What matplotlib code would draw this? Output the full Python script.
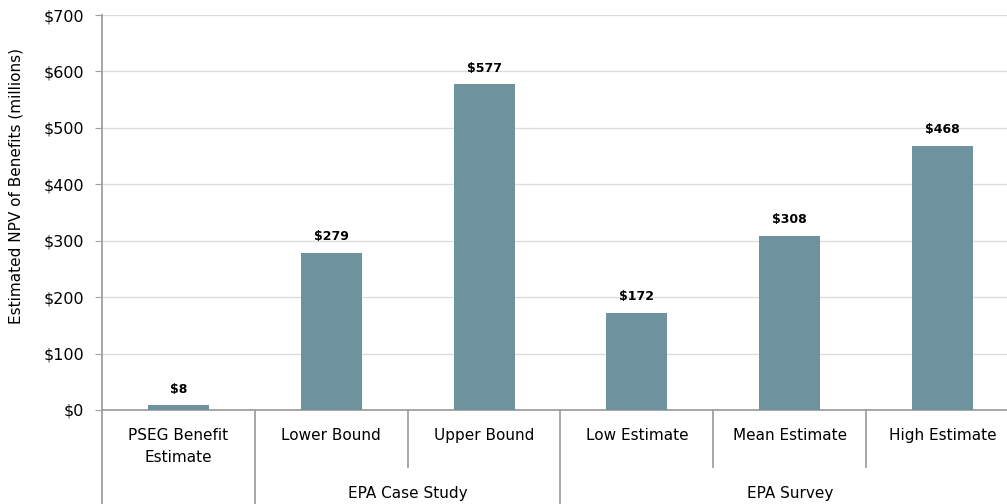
import matplotlib
matplotlib.use("Agg")
import matplotlib.pyplot as plt

categories = ["PSEG Benefit\nEstimate", "Lower Bound", "Upper Bound",
              "Low Estimate", "Mean Estimate", "High Estimate"]
values = [8, 279, 577, 172, 308, 468]
groups = [("", 0, 1), ("EPA Case Study", 1, 3), ("EPA Survey", 3, 6)]
yticks = [0, 100, 200, 300, 400, 500, 600, 700]

plt.rcParams['font.family'] = ['DejaVu Sans']

W, H = 1007, 504
fig = plt.figure(figsize=(W / 100, H / 100), dpi=100)
left_px, right_px, top_px, bottom_px = 102, 1019, 15, 410
ax_w_px = right_px - left_px
ax_h_px = bottom_px - top_px
ax = fig.add_axes([left_px / W, 1 - bottom_px / H,
                   ax_w_px / W, ax_h_px / H])

n = len(categories)
x = list(range(n))
color = "#6F929F"
ax.bar(x, values, width=0.4, color=color, zorder=3)
ax.set_xlim(-0.5, n - 0.5)
ax.set_ylim(0, 700)
ax.set_yticks(yticks)
ax.set_yticklabels([f"${v}" for v in yticks], fontsize=11.5)
ax.grid(axis="y", color="#DCDCDC", linewidth=1, zorder=0)
ax.set_xticks([])
for s in ["top", "right"]:
    ax.spines[s].set_visible(False)
for s in ["left", "bottom"]:
    ax.spines[s].set_color("#A0A0A0")
    ax.spines[s].set_linewidth(1.3)
ax.tick_params(axis="y", length=5, color="#A0A0A0", pad=8)
ax.set_ylabel("Estimated NPV of Benefits (millions)", fontsize=11)
ax.yaxis.set_label_coords((23 - left_px) / ax_w_px, (bottom_px - 186) / ax_h_px)

for xi, v in zip(x, values):
    ax.annotate(f"${v}", (xi, v), xytext=(0, 7), textcoords="offset points",
                ha="center", va="bottom", fontsize=9, fontweight="bold")

trans = ax.get_xaxis_transform()
def yfrac(py):
    return -(py - bottom_px) / ax_h_px

# category labels
for xi, c in zip(x, categories):
    ax.text(xi, yfrac(428), c, transform=trans, ha="center", va="top",
            fontsize=11, linespacing=1.6)

# separators
group_bounds = set()
for name, a, b in groups:
    group_bounds.add(a - 0.5)
    group_bounds.add(b - 0.5)
for i in range(n + 1):
    b = i - 0.5
    y_end = 504 if b in group_bounds else 467
    ax.plot([b, b], [0, yfrac(y_end)], transform=trans, color="#A0A0A0",
            linewidth=1.3, clip_on=False)

for name, a, b in groups:
    if name:
        ax.text((a + b - 1) / 2, yfrac(486), name, transform=trans,
                ha="center", va="top", fontsize=11)

fig.savefig("out.png", dpi=100)
